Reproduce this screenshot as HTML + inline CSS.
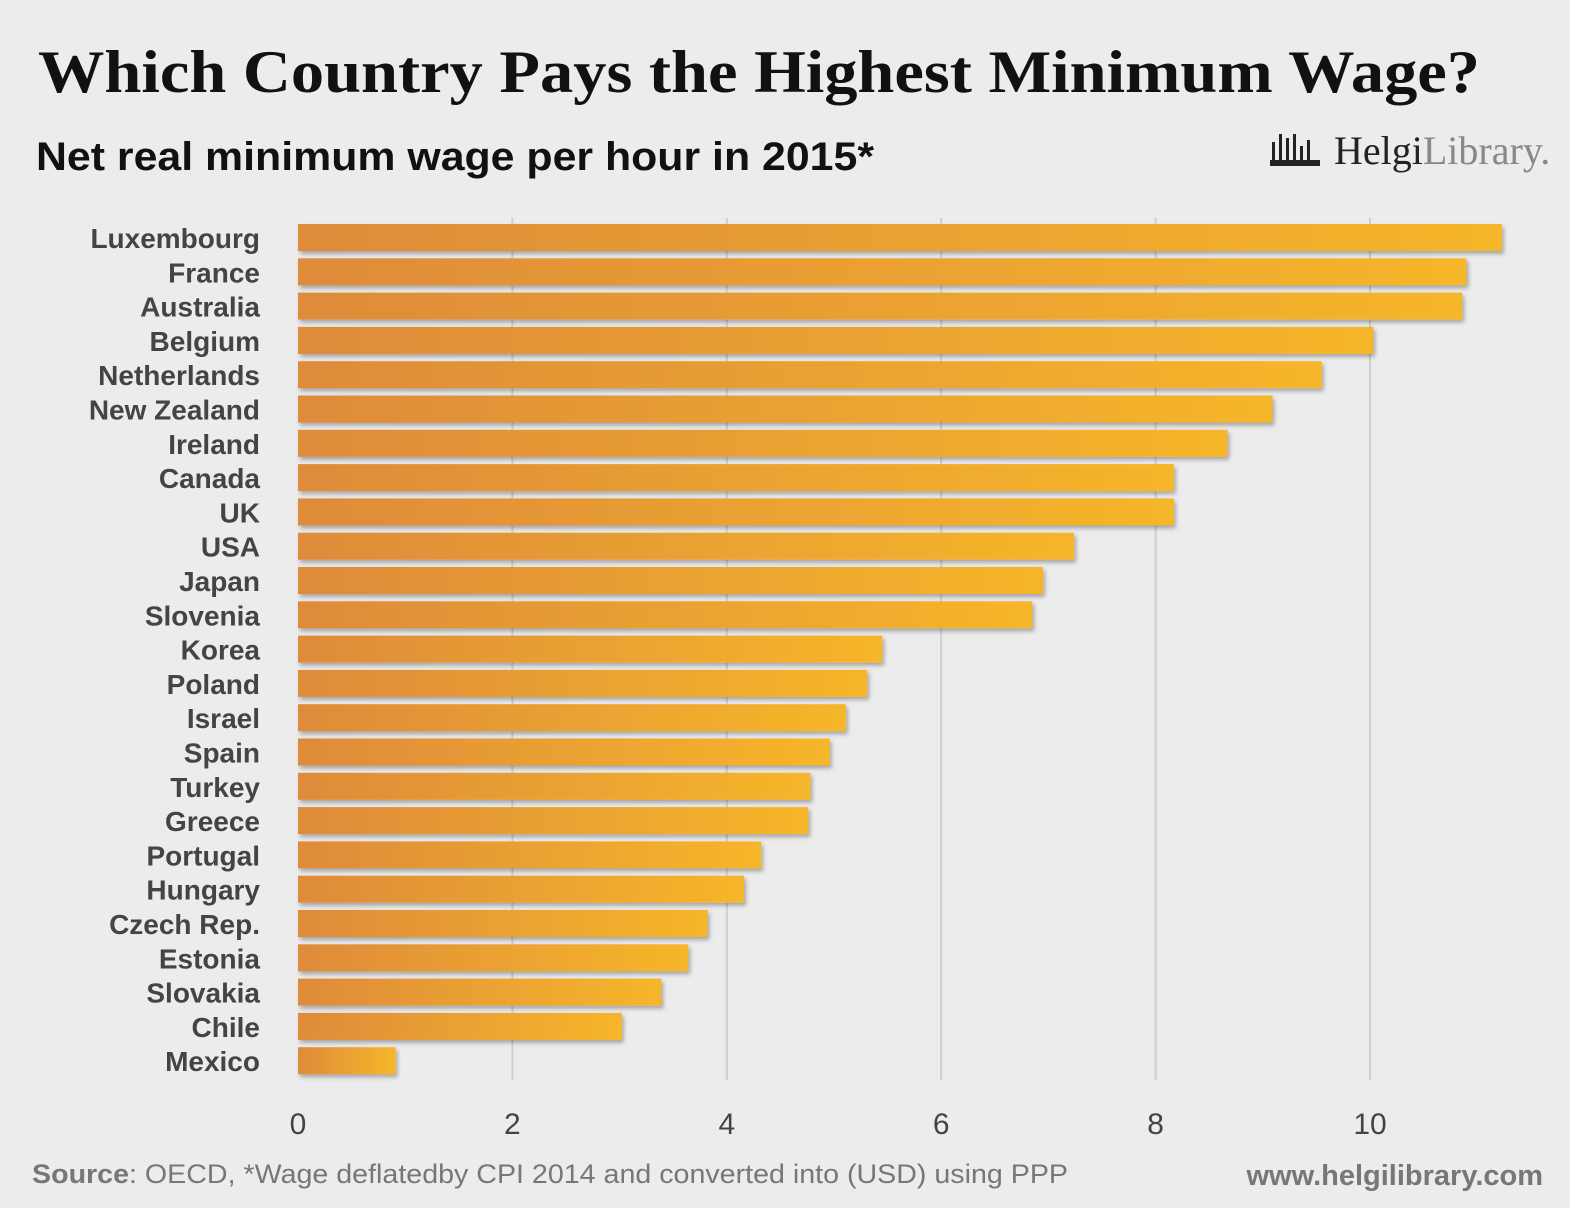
<!DOCTYPE html>
<html><head><meta charset="utf-8"><style>
body{margin:0;background:#ececec;}
#wrap{position:relative;width:1570px;height:1208px;background:#ececec;overflow:hidden;font-family:"Liberation Sans",sans-serif;}
</style></head><body>
<div id="wrap">
<svg id="svg" width="1570" height="1208" xmlns="http://www.w3.org/2000/svg">
<defs>
<linearGradient id="g" x1="0" x2="1" y1="0" y2="0"><stop offset="0" stop-color="#de8b3a"/><stop offset="1" stop-color="#f6b62a"/></linearGradient>
<filter id="sh" x="-5%" y="-20%" width="110%" height="160%"><feDropShadow dx="2" dy="3" stdDeviation="2" flood-color="#000" flood-opacity="0.3"/></filter>
</defs>
<text x="38" y="92" font-family="Liberation Serif,serif" font-weight="bold" font-size="60" fill="#111" textLength="1442" lengthAdjust="spacingAndGlyphs">Which Country Pays the Highest Minimum Wage?</text>
<text x="36" y="170" font-family="Liberation Sans,sans-serif" font-size="40" font-weight="bold" fill="#111" textLength="838" lengthAdjust="spacingAndGlyphs">Net real minimum wage per hour in 2015*</text>
<g>
<g fill="#222"><rect x="1272" y="142" width="3" height="20"/><rect x="1279" y="134" width="3" height="28"/><rect x="1286" y="138" width="3" height="24"/><rect x="1293" y="134" width="3" height="28"/><rect x="1300" y="146" width="3" height="16"/><rect x="1307" y="140" width="3" height="22"/><rect x="1270" y="160" width="50" height="6"/></g>
<text x="1334" y="164" font-family="Liberation Serif,serif" font-size="40" fill="#222">Helgi<tspan fill="#888">Library.</tspan></text>
</g>
<g id="grid"></g><g id="bars"></g><g id="labels"></g><g id="ticks"></g>
<text x="32" y="1183" font-size="27" fill="#777" textLength="1036" lengthAdjust="spacingAndGlyphs"><tspan font-weight="bold">Source</tspan>: OECD, *Wage deflatedby CPI 2014 and converted into (USD) using PPP</text>
<text x="1543" y="1185" text-anchor="end" font-size="29" font-weight="bold" fill="#777">www.helgilibrary.com</text>
</svg>
</div>
<script>
const countries=["Luxembourg","France","Australia","Belgium","Netherlands","New Zealand","Ireland","Canada","UK","USA","Japan","Slovenia","Korea","Poland","Israel","Spain","Turkey","Greece","Portugal","Hungary","Czech Rep.","Estonia","Slovakia","Chile","Mexico"];
const wages=[11.23,10.90,10.86,10.03,9.55,9.09,8.67,8.17,8.17,7.24,6.95,6.85,5.45,5.31,5.11,4.96,4.78,4.76,4.32,4.16,3.82,3.64,3.39,3.02,0.91];
const tickValues=[0,2,4,6,8,10];
const NS="http://www.w3.org/2000/svg";
const x0=298,pxPer=107.2,yTop=224,step=34.3,bh=27;
const xs=v=>x0+v*pxPer;
const yb=i=>yTop+i*step;
function mk(t,a){const e=document.createElementNS(NS,t);for(const k in a)e.setAttribute(k,a[k]);return e;}
const grid=document.getElementById('grid'),bars=document.getElementById('bars'),labels=document.getElementById('labels'),ticks=document.getElementById('ticks');
tickValues.forEach(v=>{
  if(v>0){const l=mk('line',{x1:xs(v),x2:xs(v),y1:218,y2:1080,stroke:'#cfcfcf','stroke-width':2});
  
  
  grid.appendChild(l);}
  const t=mk('text',{x:xs(v),y:1134,'text-anchor':'middle','font-size':30,fill:'#444'});
  t.textContent=v;
  
  
  ticks.appendChild(t);
});
countries.forEach((c,i)=>{
  const r=mk('rect',{x:x0,y:yb(i),width:xs(wages[i])-x0,height:bh,fill:'url(#g)',filter:'url(#sh)'});
  
  
  bars.appendChild(r);
  const t=mk('text',{x:260,y:yb(i)+24,'text-anchor':'end','font-size':28,'font-weight':'bold',fill:'#444'});
  t.textContent=c;
  
  
  labels.appendChild(t);
});
</script>
</body></html>
